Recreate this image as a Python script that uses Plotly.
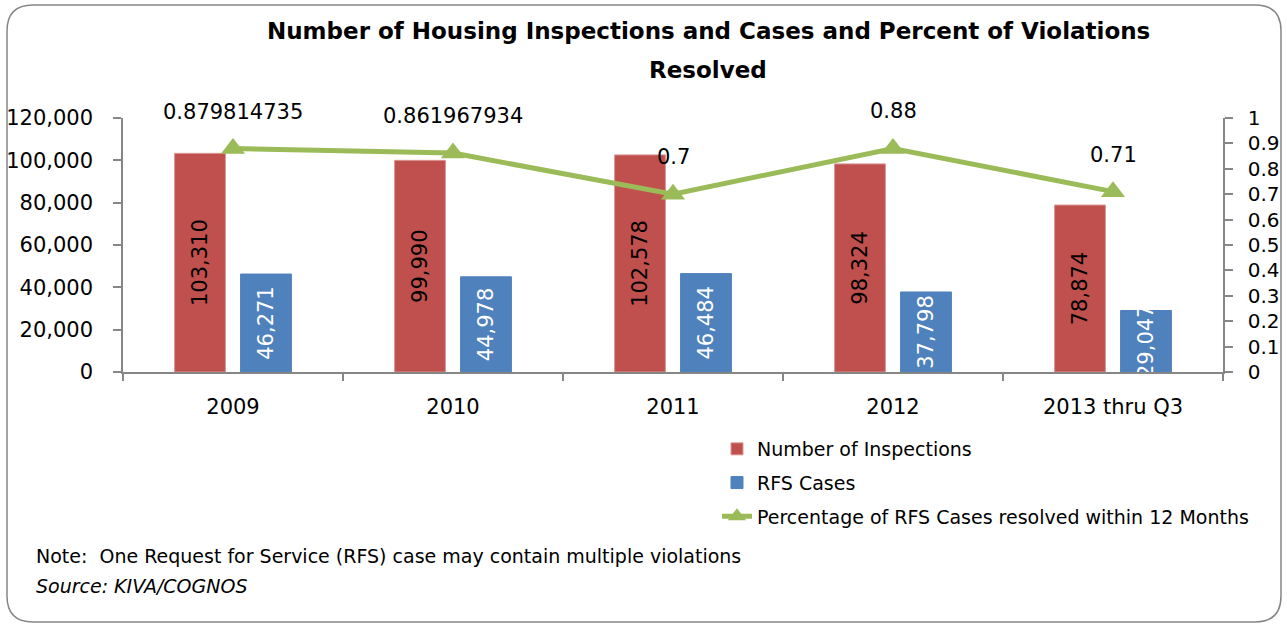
import plotly.graph_objects as go

categories = ["2009", "2010", "2011", "2012", "2013 thru Q3"]
inspections = [103310, 99990, 102578, 98324, 78874]
rfs_cases = [46271, 44978, 46484, 37798, 29047]
pct_resolved = [0.879814735, 0.861967934, 0.7, 0.88, 0.71]
title_lines = ["Number of Housing Inspections and Cases and Percent of Violations", "Resolved"]

FONT = "DejaVu Sans, Lato, sans-serif"
W, H = 1287, 628
L, R, T, B = 123, 64, 118, 256
PW, PH = W - L - R, H - T - B


def px(x):
    return (x - L) / PW


def py(y):
    return (H - B - y) / PH


fig = go.Figure()
fig.add_trace(go.Bar(
    x=categories, y=inspections, name="Number of Inspections", legendgroup="a",
    marker=dict(color="#C0504D", line=dict(color="#D99694", width=1)),
    texttemplate="%{y:,}", textposition="inside", insidetextanchor="middle",
    textangle=-90, constraintext="none",
    textfont=dict(family=FONT, size=21, color="black"),
))
fig.add_trace(go.Bar(
    x=categories, y=rfs_cases, name="RFS Cases", legendgroup="b",
    marker=dict(color="#4F81BD", line=dict(color="#4F81BD", width=1)),
    texttemplate="%{y:,}", textposition="inside", insidetextanchor="middle",
    textangle=-90, constraintext="none",
    textfont=dict(family=FONT, size=21, color="white"),
))
fig.add_trace(go.Scatter(
    x=categories, y=pct_resolved, yaxis="y2", mode="lines+markers", legendgroup="c",
    name="Percentage of RFS Cases resolved within 12 Months",
    line=dict(color="#9BBB59", width=5),
    marker=dict(symbol="triangle-up", size=21, color="#9BBB59"),
))

annotations = []
for i, v in enumerate(pct_resolved):
    annotations.append(dict(
        x=i, y=v, xref="x", yref="y2", text=str(v), showarrow=False,
        yshift=37, font=dict(family=FONT, size=21, color="black"),
    ))

for line_text, ycen in zip(title_lines, [31, 70]):
    annotations.append(dict(
        x=px(708), y=py(ycen), xref="paper", yref="paper", xanchor="center", yanchor="middle",
        text=f"<b>{line_text}</b>", showarrow=False,
        font=dict(family=FONT, size=23, color="black"),
    ))
annotations.append(dict(
    x=px(34), y=py(556), xref="paper", yref="paper", xanchor="left", yanchor="middle",
    text="Note:  One Request for Service (RFS) case may contain multiple violations",
    showarrow=False, font=dict(family=FONT, size=19, color="black"),
))
annotations.append(dict(
    x=px(34), y=py(586), xref="paper", yref="paper", xanchor="left", yanchor="middle",
    text="<i>Source: KIVA/COGNOS</i>",
    showarrow=False, font=dict(family=FONT, size=19, color="black"),
))

# rounded border
x0, x1, y0, y1, r = 7, 1281, 5, 622, 26
path = (
    f"M {px(x0 + r)},{py(y0)} L {px(x1 - r)},{py(y0)} "
    f"Q {px(x1)},{py(y0)} {px(x1)},{py(y0 + r)} "
    f"L {px(x1)},{py(y1 - r)} Q {px(x1)},{py(y1)} {px(x1 - r)},{py(y1)} "
    f"L {px(x0 + r)},{py(y1)} Q {px(x0)},{py(y1)} {px(x0)},{py(y1 - r)} "
    f"L {px(x0)},{py(y0 + r)} Q {px(x0)},{py(y0)} {px(x0 + r)},{py(y0)} Z"
)

axis_col = "#868686"
fig.update_layout(
    width=W, height=H,
    margin=dict(l=L, r=R, t=T, b=B, autoexpand=False),
    paper_bgcolor="white", plot_bgcolor="white",
    font=dict(family=FONT, color="black"),
    barmode="group", bargap=0.4, bargroupgap=0.23,
    showlegend=True,
    legend=dict(
        x=px(717), y=py(430), xanchor="left", yanchor="top",
        font=dict(family=FONT, size=19, color="black"),
        bgcolor="rgba(0,0,0,0)", tracegroupgap=6,
    ),
    xaxis=dict(
        type="category", range=[-0.5, len(categories) - 0.5],
        showline=True, linecolor=axis_col, linewidth=1.5,
        ticks="outside", tickson="boundaries", ticklen=7, tickcolor=axis_col,
        tickwidth=1.5, ticklabelstandoff=15,
        tickfont=dict(family=FONT, size=21, color="black"),
        showgrid=False, zeroline=False,
    ),
    yaxis=dict(
        range=[0, 120000], dtick=20000, tickformat=",",
        showline=True, linecolor=axis_col, linewidth=1.5,
        ticks="outside", ticklen=8, tickcolor=axis_col, tickwidth=1.5,
        ticklabelstandoff=16,
        tickfont=dict(family=FONT, size=21, color="black"),
        showgrid=False, zeroline=False,
    ),
    yaxis2=dict(
        range=[0, 1], dtick=0.1, overlaying="y", side="right",
        showline=True, linecolor=axis_col, linewidth=1.5,
        ticks="outside", ticklen=8, tickcolor=axis_col, tickwidth=1.5,
        ticklabelstandoff=11,
        tickfont=dict(family=FONT, size=20, color="black"),
        showgrid=False, zeroline=False,
    ),
    annotations=annotations,
    shapes=[dict(type="path", xref="paper", yref="paper", path=path,
                 line=dict(color=axis_col, width=1.5), layer="below")],
)

fig.write_html("out.html", config={"displayModeBar": False},
               post_script="document.body.style.margin='0';")
